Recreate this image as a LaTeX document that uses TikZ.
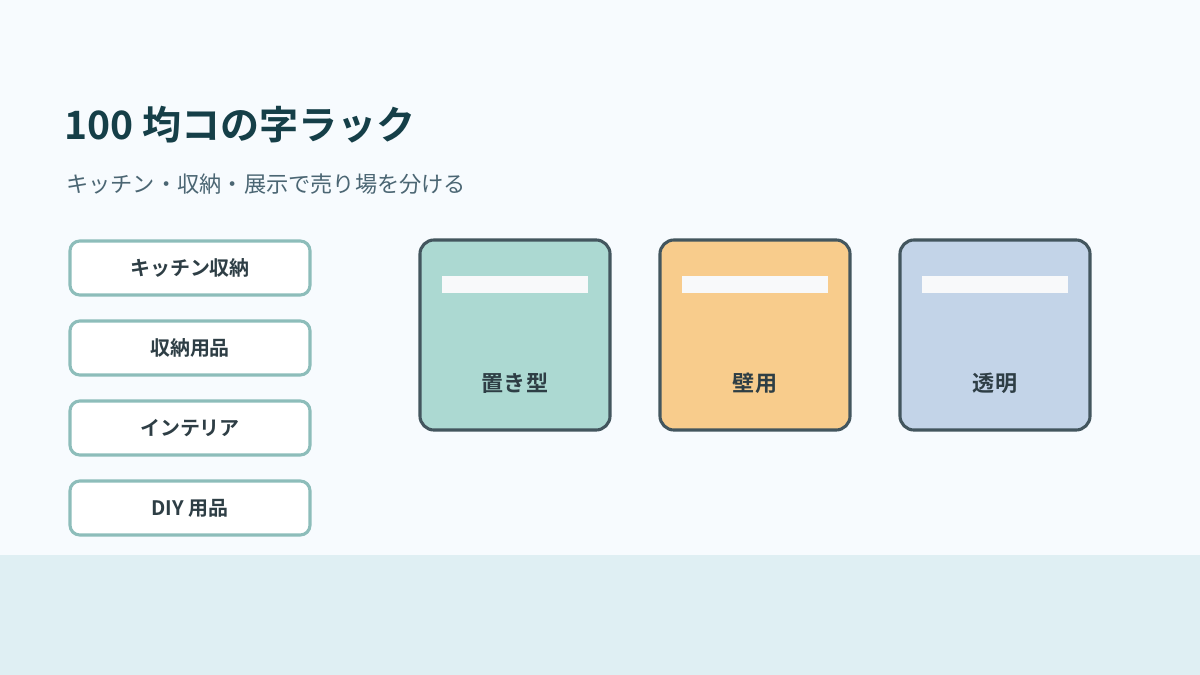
\documentclass[tikz,border=0pt]{standalone}
\usepackage{fontspec}
\setmainfont{Noto Sans CJK JP}[BoldFont={Noto Sans CJK JP Bold}]
\usetikzlibrary{positioning}

\definecolor{pagebg}{HTML}{F7FBFE}
\definecolor{bandbg}{HTML}{DFEFF3}
\definecolor{titlecol}{HTML}{153F48}
\definecolor{subcol}{HTML}{4B6673}
\definecolor{tagline}{HTML}{8DBDBA}
\definecolor{tagtext}{HTML}{2E3E45}
\definecolor{cardline}{HTML}{43565E}
\definecolor{cardA}{HTML}{ACD9D2}
\definecolor{cardB}{HTML}{F8CC8C}
\definecolor{cardC}{HTML}{C3D4E8}
\definecolor{shelf}{HTML}{F8F9FA}

\tikzset{
  tag/.style={draw=tagline,line width=2.2pt,fill=white,rounded corners=7pt,
    minimum width=6cm,minimum height=1.35cm,inner sep=0pt,
    text=tagtext,font=\fontsize{14.2pt}{17pt}\selectfont\bfseries},
  card/.style={draw=cardline,line width=2.2pt,rounded corners=10pt,
    minimum width=4.75cm,minimum height=4.75cm,inner sep=0pt},
  shelfbar/.style={fill=shelf,draw=none,minimum width=3.65cm,minimum height=0.43cm,inner sep=0pt},
  cardlabel/.style={text=tagtext,font=\fontsize{15.7pt}{18pt}\selectfont\bfseries,inner sep=0pt}
}

\begin{document}
\begin{tikzpicture}[x=0.025cm,y=-0.025cm]
\useasboundingbox (0,0) rectangle (1200,675);
\fill [pagebg] (0,0) rectangle (1200,555);
\fill [bandbg] (0,555) rectangle (1200,675);

% title
\node (title) at (64,125) [anchor=west,inner sep=0pt,text=titlecol,font=\fontsize{27.8pt}{32pt}\selectfont\bfseries] {100 均コの字ラック};
\node (sub) at (66,184) [anchor=west,inner sep=0pt,text=subcol,font=\fontsize{15.8pt}{18pt}\selectfont] {キッチン・収納・展示で売り場を分ける};

% left tags
\node (kitchen) at (190,268) [tag] {キッチン収納};
\node (storage) at (190,348) [tag] {収納用品};
\node (interior) at (190,428) [tag] {インテリア};
\node (diy) at (190,508) [tag] {DIY 用品};

% cards
\node (stand) at (515,335) [card,fill=cardA] {};
\node (wall) at (755,335) [card,fill=cardB] {};
\node (clear) at (995,335) [card,fill=cardC] {};

\node (standbar) at (515,284.5) [shelfbar] {};
\node (wallbar) at (755,284.5) [shelfbar] {};
\node (clearbar) at (995,284.5) [shelfbar] {};

\node (standlbl) at (515,383) [cardlabel] {置き型};
\node (walllbl) at (755,383) [cardlabel] {壁用};
\node (clearlbl) at (995,383) [cardlabel] {透明};
\end{tikzpicture}
\end{document}
